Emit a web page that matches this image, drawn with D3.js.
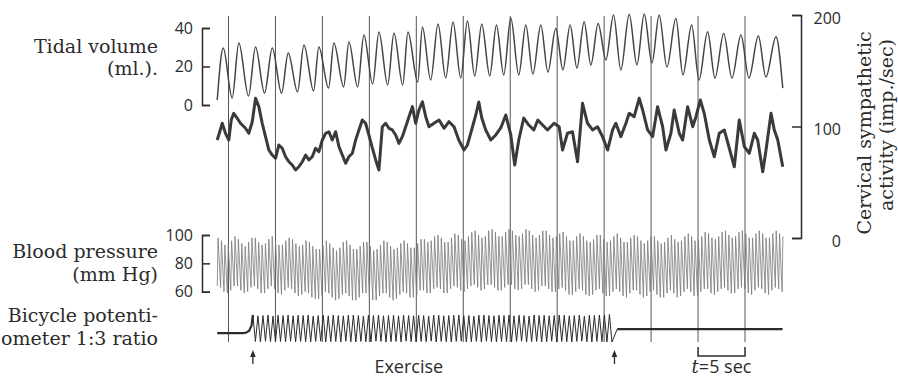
<!DOCTYPE html>
<html>
<head>
<meta charset="utf-8">
<script src="https://cdn.jsdelivr.net/npm/d3@7"></script>
<style>
  html, body { margin: 0; padding: 0; background: #fff; }
  svg { display: block; }
</style>
</head>
<body>
<svg id="trace-container"></svg>
<script>
// time marks, one every 5 sec
const markerTimes = [0, 5, 10, 15, 20, 25, 30, 35, 40, 45, 50, 55];
const exerciseStart = 2.6;
const exerciseEnd = 41.1;

// tidal volume (ml) - alternating peaks / troughs
const tidalT = [-1.20,-0.56,0.39,1.10,2.13,2.88,3.84,4.66,5.65,6.36,7.35,8.03,9.06,9.62,10.66,11.22,12.26,12.82,13.75,14.42,15.35,16.02,16.95,17.62,18.55,19.11,20.15,20.65,21.53,22.31,23.13,23.91,24.73,25.44,26.22,26.97,27.82,28.53,29.31,30.06,30.91,31.66,32.41,33.26,34.01,34.85,35.61,36.38,37.10,37.87,38.59,39.36,40.19,41.00,41.78,42.67,43.49,44.27,45.09,45.86,46.69,47.64,48.39,49.32,50.10,51.02,51.80,52.73,53.61,54.57,55.42,56.42,57.23,58.30,59.02];
const tidalV = [2.6,29.6,3.6,32.2,4.7,30.1,6.2,29.6,6.2,27.0,6.8,31.2,7.3,30.1,8.8,32.2,9.4,32.7,9.4,36.4,10.9,37.9,10.4,37.4,10.4,37.9,11.9,40.5,13.0,42.1,14.0,43.1,14.0,43.6,15.1,42.1,15.1,41.6,15.6,45.2,15.6,41.6,16.1,41.6,17.1,39.8,18.2,41.6,19.2,43.3,20.8,42.4,23.4,46.8,18.2,47.1,20.8,47.3,21.8,46.8,19.7,45.0,15.6,41.6,13.0,38.1,14.0,37.2,14.0,36.4,14.0,35.8,14.5,35.5,8.8];

// cervical sympathetic activity (imp./sec)
const sympT = [-1.20,-0.93,-0.67,-0.32,0.03,0.29,0.56,0.93,1.28,1.81,2.16,2.53,2.88,3.23,3.59,3.94,4.30,4.66,5.01,5.36,5.72,6.08,6.43,6.79,7.14,7.49,7.86,8.21,8.56,8.92,9.27,9.63,9.99,10.34,10.69,11.05,11.41,11.76,12.12,12.47,12.82,13.19,13.54,13.89,14.25,14.60,14.95,15.32,15.67,16.02,16.38,16.73,17.09,17.45,17.80,18.15,18.51,18.87,19.22,19.58,19.93,20.28,20.65,21.00,21.35,21.88,22.42,22.95,23.48,24.02,24.52,25.08,25.44,25.79,26.33,26.65,26.97,27.39,27.93,28.46,28.99,29.53,30.06,30.48,30.91,31.44,31.98,32.51,32.94,33.26,33.97,34.67,35.21,35.57,36.10,36.63,37.17,37.70,38.23,38.77,39.30,39.83,40.37,40.90,41.25,41.78,42.32,42.67,43.20,43.73,44.10,44.63,45.16,45.69,46.23,46.58,47.11,47.46,48.00,48.36,48.89,49.43,49.78,50.24,50.66,51.20,51.73,52.26,52.79,53.33,53.86,54.39,54.93,55.46,55.99,56.35,56.89,57.24,57.77,58.12,58.49,59.02];
const sympV = [87.9,95.3,102.9,93.9,87.9,105.8,111.8,107.4,102.9,98.4,93.9,104.3,125.3,117.8,102.9,90.9,78.9,74.4,71.5,83.4,80.5,72.9,68.4,65.5,61.0,63.9,68.4,74.4,70.0,72.9,80.5,77.4,87.9,93.9,95.3,87.9,95.3,81.9,74.4,67.0,72.9,76.0,87.9,96.9,105.8,102.9,92.4,80.5,70.0,61.0,99.8,102.9,98.4,96.9,92.4,84.9,90.9,99.8,108.8,117.8,102.9,114.8,122.2,108.8,99.8,102.9,105.8,98.4,104.3,99.8,87.9,78.9,83.4,93.9,110.3,122.0,107.6,96.9,87.9,92.4,98.7,110.3,92.4,65.5,87.9,107.6,101.3,96.9,105.8,102.9,96.9,102.9,99.8,78.9,93.9,95.3,68.4,120.8,102.9,96.9,99.8,90.9,78.9,96.9,102.9,90.9,102.9,111.8,108.8,125.3,114.8,96.9,90.9,117.8,99.8,78.9,93.9,114.8,93.9,87.9,117.8,99.8,108.8,123.8,111.8,87.9,72.9,93.9,96.9,80.5,63.9,105.8,81.9,76.0,93.9,87.9,59.5,78.9,111.8,96.9,87.9,63.9];

// blood pressure (mm Hg), one value per heart beat
const bpStart = -1.2;
const bpEnd = 58.95;
const bpSys = [98,96,93,93,96,99,97,94,92, 95,98,98,95,93,94,97,99,96, 93,93,96,98,97,94,92,93,96, 95,92,90,90,93,96,94,91,89,
  91,95,96,93,90,90,92,95,95, 92,89,90,93,96,95,92,90,91, 94,96,94,91,91,94,97,97,95, 96,99,100,98,95,95,98,101,100,
  97,96,99,102,103,100,98,99,103, 104,102,99,99,102,104,103,100,99, 101,104,103,100,98,100,103,103,100, 98,99,101,102,99,96,96,99,101,
  99,96,95,97,100,100,97,95,96, 99,101,98,95,95,98,100,99,96, 94,96,99,99,96,94,95,98,100, 97,95,96,99,101,99,96,96,99,
  102,101,98,97,99,102,103,100,98, 99,102,103,101,98,98,101,103,101, 98,98,101,103,101,99];
const bpDia = [64,63,60,59,61,64,64,61,59, 60,63,64,62,59,59,62,64,62, 59,58,61,63,62,59,57,58,60, 59,56,55,55,57,60,59,56,54,
  55,58,59,57,54,54,56,59,59, 56,54,54,57,59,59,56,54,55, 58,60,59,56,56,58,61,61,59, 59,62,63,62,59,59,62,64,63,
  61,60,62,64,65,63,61,62,65, 65,63,61,61,63,65,65,62,61, 62,65,65,62,60,61,64,64,62, 60,60,62,63,61,58,58,60,62,
  61,58,57,58,61,62,59,57,57, 60,62,60,57,56,59,61,61,58, 56,57,60,61,58,56,56,59,61, 59,56,57,60,62,60,57,57,60,
  62,62,59,58,60,62,63,61,59, 59,62,63,62,59,58,61,63,62, 59,58,61,63,62,60];

// bicycle potentiometer (relative)
const bikePreT = [-1.2, 1.6, 1.9, 2.2, 2.45];
const bikePreV = [0.33, 0.33, 0.35, 0.42, 0.6];
const pedalTop = [1,0.97,0.98,1,0.96,0.99,0.98,1,0.97,0.99, 0.98,1,0.96,0.98,0.99,0.97,1,0.98,0.97,0.99,
  1,0.98,0.96,0.99,0.98,1,0.97,0.98,0.99,0.97, 1,0.98,0.97,0.99,0.98,0.96,1,0.99,0.97,0.98,
  0.99,1,0.97,0.98,0.96,0.99,1,0.98,0.97,0.99, 0.98,1,0.97,0.99,0.98,0.96,1,0.98,0.99,0.97,
  0.98,1,0.99,0.97,0.98,1,0.96,0.99,0.98,1, 1,1.02];
const pedalBottom = [0.02,0,0.03,0.01,0,0.02,0.01,0.03,0,0.02, 0.01,0,0.02,0.03,0,0.01,0.02,0,0.03,0.01,
  0,0.02,0.01,0,0.03,0.02,0,0.01,0.02,0, 0.03,0.01,0,0.02,0.01,0.03,0,0.02,0.01,0,
  0.02,0.03,0,0.01,0.02,0,0.03,0.01,0,0.02, 0.01,0,0.02,0.03,0,0.01,0.02,0,0.01,0.03,
  0,0.02,0.01,0,0.02,0.03,0.01,0,0.02,0.01, 0,0];
const bikePostT = [41.4, 59.0];
const bikePostV = [0.48, 0.48];

const width = 898;
const height = 379;

const svg = d3.select('#trace-container')
    .attr('width', width)
    .attr('height', height);

svg.append('rect')
    .attr('width', width)
    .attr('height', height)
    .attr('fill', '#fff');

const x = d3.scaleLinear().domain([0, 55]).range([228.5, 745]);
const yTidal = d3.scaleLinear().domain([0, 40]).range([105, 28]);
const ySymp = d3.scaleLinear().domain([0, 200]).range([238, 15]);
const yBP = d3.scaleLinear().domain([60, 100]).range([291.7, 235]);
const yBike = d3.scaleLinear().domain([0, 1]).range([342, 315]);

const serif = '"DejaVu Serif", serif';
const sans = '"Open Sans", sans-serif';
const ink = '#2b2b2b';

// time marker lines
svg.append('g')
    .attr('class', 'markers')
    .selectAll('line')
    .data(markerTimes)
    .enter()
    .append('line')
        .attr('x1', d => x(d))
        .attr('x2', d => x(d))
        .attr('y1', 16)
        .attr('y2', 342)
        .attr('stroke', '#555')
        .attr('stroke-width', 1);

// tidal volume
const tidalLine = d3.line()
    .x(d => x(d[0]))
    .y(d => yTidal(d[1]))
    .curve(d3.curveMonotoneX);

svg.append('path')
    .datum(d3.zip(tidalT, tidalV))
    .attr('d', tidalLine)
    .attr('fill', 'none')
    .attr('stroke', '#444')
    .attr('stroke-width', 1.5);

// sympathetic activity
const sympLine = d3.line()
    .x(d => x(d[0]))
    .y(d => ySymp(d[1]));

svg.append('path')
    .datum(d3.zip(sympT, sympV))
    .attr('d', sympLine)
    .attr('fill', 'none')
    .attr('stroke', '#3a3a3a')
    .attr('stroke-width', 3)
    .attr('stroke-linejoin', 'round');

// blood pressure, one stroke up and down per beat
const beat = d3.scaleLinear().domain([0, bpSys.length - 1]).range([bpStart, bpEnd]);
const bpPoints = [];
bpSys.forEach((s, i) => {
    bpPoints.push([beat(i), bpDia[i]]);
    bpPoints.push([beat(i) + 0.09, s]);
});

svg.append('path')
    .datum(bpPoints)
    .attr('d', d3.line().x(d => x(d[0])).y(d => yBP(d[1])))
    .attr('fill', 'none')
    .attr('stroke', '#7a7a7a')
    .attr('stroke-width', 0.8);

// bicycle potentiometer
const cycle = d3.scaleLinear().domain([0, pedalTop.length]).range([exerciseStart, exerciseEnd]);
const bikeLine = d3.line().x(d => x(d[0])).y(d => yBike(d[1]));
const pedalPoints = [];
pedalTop.forEach((v, i) => {
    pedalPoints.push([cycle(i), v]);
    pedalPoints.push([cycle(i + 0.5), pedalBottom[i]]);
});
pedalPoints.push([bikePostT[0], bikePostV[0]]);

svg.append('path')
    .datum(d3.zip(bikePreT, bikePreV).concat([[exerciseStart, pedalTop[0]]]))
    .attr('d', bikeLine)
    .attr('fill', 'none')
    .attr('stroke', ink)
    .attr('stroke-width', 2.2);

svg.append('path')
    .datum(pedalPoints)
    .attr('d', bikeLine)
    .attr('fill', 'none')
    .attr('stroke', ink)
    .attr('stroke-width', 1);

svg.append('path')
    .datum(d3.zip(bikePostT, bikePostV))
    .attr('d', bikeLine)
    .attr('fill', 'none')
    .attr('stroke', ink)
    .attr('stroke-width', 2.2);

// axes
function styleAxis(g) {
    g.selectAll('path, line')
        .attr('stroke', ink)
        .attr('stroke-width', 1.5);
    g.selectAll('text')
        .attr('fill', ink)
        .style('font-family', sans)
        .style('font-size', '16px');
}

svg.append('g')
    .attr('transform', 'translate(202,0)')
    .call(d3.axisLeft(yTidal).tickValues([0, 20, 40]).tickSize(-8).tickPadding(9))
    .call(styleAxis);

svg.append('g')
    .attr('transform', 'translate(202,0)')
    .call(d3.axisLeft(yBP).tickValues([60, 80, 100]).tickSize(-8).tickPadding(9))
    .call(styleAxis);

svg.append('g')
    .attr('transform', 'translate(801,0)')
    .call(d3.axisRight(ySymp).tickValues([0, 100, 200]).tickSize(-9))
    .call(styleAxis)
    .call(g => g.selectAll('text').attr('x', 40).attr('dy', '0.5em').attr('text-anchor', 'end'));

// left labels
const leftLabels = [
    { text: 'Tidal volume', y: 53 },
    { text: '(ml.).', y: 75 },
    { text: 'Blood pressure', y: 258 },
    { text: '(mm Hg)', y: 281 },
    { text: 'Bicycle potenti-', y: 322 },
    { text: 'ometer 1:3 ratio', y: 345 }
];

svg.append('g')
    .selectAll('text')
    .data(leftLabels)
    .enter()
    .append('text')
        .attr('x', 158)
        .attr('y', d => d.y)
        .attr('text-anchor', 'end')
        .attr('fill', ink)
        .style('font-family', serif)
        .style('font-size', '19px')
        .text(d => d.text);

// right rotated title
[['Cervical sympathetic', 871, 133], ['activity (imp./sec)', 893, 125]].forEach(([t, bx, cy]) => {
    svg.append('text')
        .attr('transform', `translate(${bx},${cy}) rotate(-90)`)
        .attr('text-anchor', 'middle')
        .attr('fill', ink)
        .style('font-family', serif)
        .style('font-size', '19px')
        .text(t);
});

// exercise arrows
[exerciseStart, exerciseEnd].forEach(t => {
    const g = svg.append('g').attr('transform', `translate(${x(t)},0)`);
    g.append('line')
        .attr('y1', 355).attr('y2', 364)
        .attr('stroke', ink).attr('stroke-width', 1.3);
    g.append('path')
        .attr('d', 'M0,350L-2.8,357L2.8,357Z')
        .attr('fill', ink);
});

svg.append('text')
    .attr('x', x(19.2))
    .attr('y', 373)
    .attr('text-anchor', 'middle')
    .attr('fill', ink)
    .style('font-family', sans)
    .style('font-size', '18px')
    .text('Exercise');

// 5 sec scale bracket
svg.append('path')
    .attr('d', `M${x(50)},347V356H${x(55)}V347`)
    .attr('fill', 'none')
    .attr('stroke', ink)
    .attr('stroke-width', 1.5);

const tLabel = svg.append('text')
    .attr('x', x(52.5))
    .attr('y', 373)
    .attr('text-anchor', 'middle')
    .attr('fill', ink)
    .style('font-family', sans)
    .style('font-size', '18px');
tLabel.append('tspan').style('font-family', serif).style('font-style', 'italic').text('t');
tLabel.append('tspan').text('=5 sec');
</script>
</body>
</html>
